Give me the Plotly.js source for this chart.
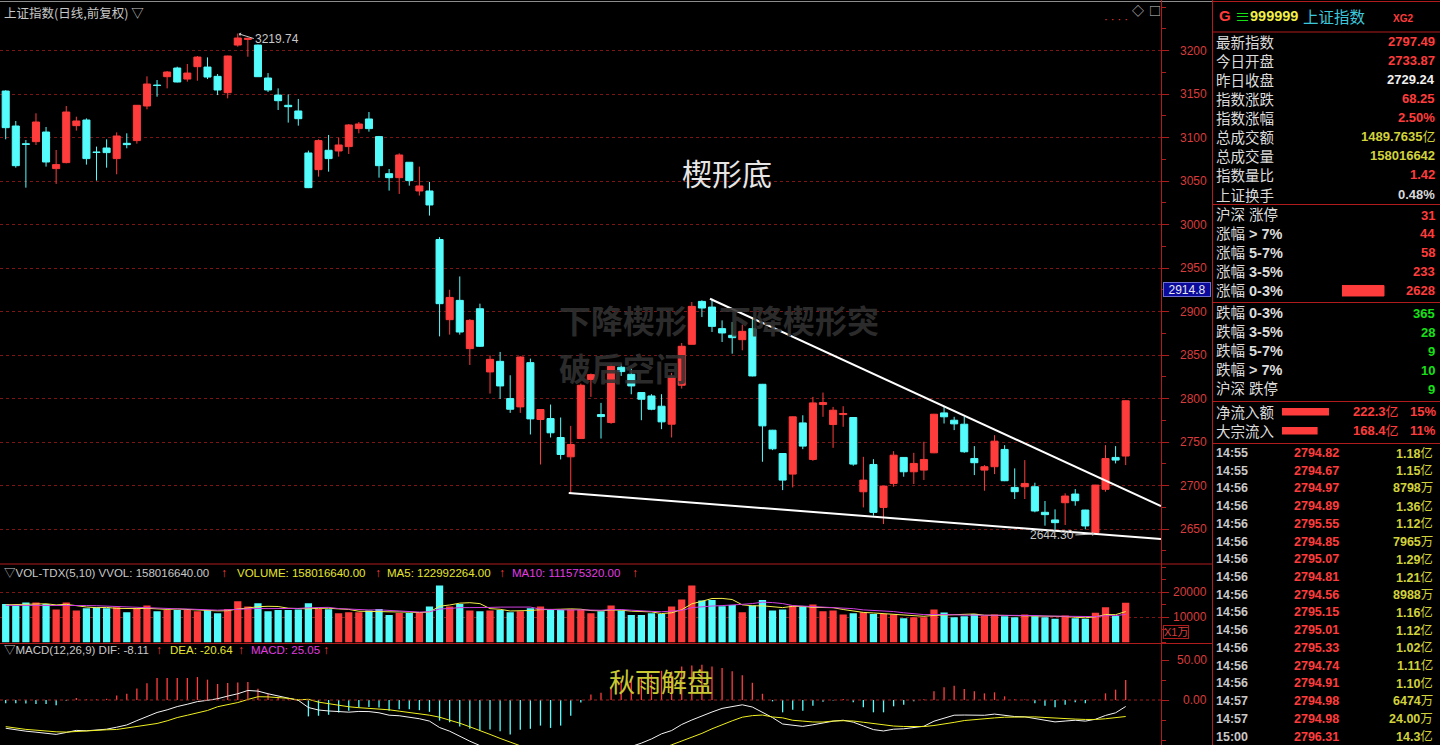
<!DOCTYPE html>
<html><head><meta charset="utf-8">
<script src="https://cdn.plot.ly/plotly-3.0.1.min.js"></script>
<style>html,body{margin:0;padding:0;background:#000;overflow:hidden}#chart{width:1440px;height:745px}</style>
</head><body><div id="chart"></div>
<script>
// ===== DATA =====
const opens = [3153.6,3113.4,3093.0,3095.4,3106.5,3064.4,3071.3,3113.8,3120.3,3083.5,3088.1,3075.9,3093.5,3096.6,3136.4,3160.5,3170.1,3180.1,3167.4,3181.6,3181.2,3170.5,3151.7,3206.5,3213.0,3206.5,3168.6,3149.0,3137.2,3130.7,3082.4,3063.2,3085.5,3084.7,3089.7,3110.4,3121.5,3101.2,3058.6,3054.0,3071.7,3038.7,3038.7,2982.9,2890.7,2912.9,2857.4,2903.3,2830.6,2842.8,2800.0,2790.4,2841.3,2775.9,2777.0,2755.2,2733.0,2754.0,2821.8,2781.6,2772.4,2836.0,2827.9,2806.9,2803.0,2791.2,2770.5,2815.3,2862.4,2911.7,2905.2,2880.4,2872.7,2867.7,2880.4,2816.4,2763.6,2736.8,2713.1,2772.0,2730.0,2793.1,2770.1,2781.6,2778.2,2692.8,2724.2,2674.8,2702.4,2732.3,2715.8,2717.7,2737.6,2783.5,2775.1,2770.5,2731.1,2717.7,2721.6,2741.5,2697.8,2698.6,2698.6,2669.2,2660.4,2680.2,2690.2,2671.8,2645.8,2695.6,2732.3,2733.87];
const highs = [3154.5,3119.2,3097.3,3128.0,3112.3,3085.8,3136.4,3124.1,3122.2,3089.7,3098.1,3106.1,3105.0,3137.5,3170.5,3166.3,3176.6,3181.6,3184.7,3193.9,3192.3,3173.2,3194.2,3219.74,3215.0,3207.0,3174.3,3156.7,3149.8,3144.5,3085.1,3098.1,3103.1,3100.0,3115.7,3118.0,3129.5,3102.0,3064.0,3082.0,3072.0,3066.7,3049.1,2985.6,2925.1,2940.4,2891.4,2909.1,2849.7,2853.6,2826.8,2848.6,2845.9,2787.8,2793.1,2778.2,2768.6,2817.2,2828.7,2795.0,2840.2,2840.0,2834.4,2807.3,2805.0,2805.0,2829.5,2863.9,2911.0,2913.0,2914.8,2889.9,2888.0,2884.9,2893.7,2816.8,2764.0,2737.2,2779.4,2780.8,2801.9,2806.9,2790.4,2791.2,2778.6,2733.0,2730.3,2699.5,2739.5,2732.6,2737.6,2750.3,2782.3,2790.4,2779.0,2779.0,2745.3,2723.5,2757.9,2746.4,2719.7,2729.2,2703.2,2682.2,2672.6,2691.0,2695.9,2672.1,2700.8,2746.4,2745.3,2798.0];
const lows = [3098.1,3065.5,3042.5,3091.6,3066.7,3046.8,3070.5,3108.1,3069.0,3050.6,3065.5,3057.9,3087.8,3093.1,3132.6,3147.1,3156.7,3163.6,3164.4,3165.5,3167.4,3149.0,3145.2,3204.6,3193.1,3170.0,3152.5,3131.8,3117.3,3113.8,3042.0,3055.2,3060.9,3078.2,3081.2,3105.0,3106.9,3054.0,3039.1,3035.3,3044.8,3033.4,3010.4,2871.5,2873.5,2873.5,2838.6,2859.3,2805.7,2799.6,2783.5,2783.5,2758.7,2724.2,2755.2,2730.0,2691.0,2753.5,2801.9,2754.0,2771.0,2826.0,2804.9,2775.1,2786.6,2764.8,2755.2,2811.5,2862.0,2893.7,2876.5,2865.0,2851.6,2855.5,2825.5,2727.3,2740.7,2694.7,2697.8,2741.8,2728.4,2779.0,2743.3,2767.5,2722.7,2674.8,2665.3,2655.7,2698.6,2710.1,2701.7,2706.3,2737.2,2771.3,2763.7,2737.6,2712.0,2694.0,2713.1,2705.0,2684.5,2684.5,2669.2,2653.8,2648.9,2654.6,2676.8,2649.6,2644.3,2692.9,2725.4,2723.5];
const closes = [3111.5,3067.8,3092.3,3118.0,3072.0,3069.0,3129.5,3119.2,3075.9,3083.0,3082.8,3101.9,3092.0,3137.2,3161.7,3160.0,3175.5,3164.0,3174.3,3192.7,3169.7,3154.8,3193.9,3214.6,3214.2,3170.1,3154.8,3142.5,3135.6,3121.8,3042.5,3096.6,3075.9,3091.6,3114.6,3115.7,3110.4,3067.8,3054.0,3080.1,3050.6,3044.5,3022.6,2909.1,2916.3,2876.5,2889.9,2860.1,2845.1,2814.5,2787.7,2847.8,2776.6,2787.4,2760.6,2735.7,2747.2,2815.3,2827.5,2779.3,2837.1,2831.0,2814.5,2799.2,2787.7,2773.2,2824.9,2860.1,2906.0,2904.1,2883.0,2875.4,2870.0,2877.3,2826.0,2768.6,2742.2,2706.2,2779.0,2745.3,2795.0,2795.4,2786.6,2782.8,2724.6,2706.2,2669.1,2699.3,2734.9,2715.8,2725.4,2730.0,2782.0,2779.0,2770.9,2738.8,2726.2,2721.6,2751.0,2705.5,2692.9,2702.4,2670.7,2666.5,2657.3,2687.9,2682.5,2653.5,2700.5,2731.1,2729.24,2797.49];

// volume, unit 1万 (x1万)
const volume = [15330,14670,15870,15870,15330,13070,15870,12670,13600,14000,13600,14000,12000,13730,14670,12400,12930,12930,12930,12400,12930,11600,13330,16400,14270,15600,12400,12930,12930,13070,15600,13330,13200,11600,12000,12000,12670,13330,10930,11730,11730,11730,14270,22670,14270,15330,12670,12400,12670,12930,12000,12400,13600,14270,12930,12930,13070,12930,11600,12400,14670,12670,10930,10930,11600,11330,14270,17070,22670,16670,16930,14400,14930,12000,14670,16930,12670,13070,14670,14400,15070,12400,12670,11070,11600,12000,11330,11330,11070,9600,10000,10000,13070,11870,10000,10400,11330,10530,11070,10400,10000,11070,10400,10000,9400,10670,9600,9400,11800,14000,10500,15802];
const volMA5 = [15000,15000,15200,15300,15410,14960,15200,14560,14110,13840,13950,13570,13440,13470,13600,13360,13150,13330,13170,12720,12820,12560,12640,13330,13710,14240,14400,14320,13630,13390,13390,13570,13630,13360,13150,12430,12290,12320,12190,12130,12080,11890,12080,14430,14930,15650,15840,15470,13470,13200,12530,12480,12720,13040,13040,13230,13360,13230,12690,12590,12930,12850,12450,12320,12160,11490,11810,13040,15390,16400,17520,17550,17120,14990,14590,14590,14240,13870,14400,14350,13980,13920,13840,13120,12560,11950,11730,11470,11470,11070,10670,10400,10750,10910,10990,11070,11330,10830,10670,10750,10670,10610,10590,10370,10170,10310,10010,9810,10170,11090,11060,12300];
const volMA10 = [14800,14800,14800,14800,14800,15000,15000,14900,14700,14630,14460,14390,14000,13790,13720,13650,13360,13390,13320,13160,13090,12850,12990,13250,13210,13530,13480,13480,13480,13550,13810,13990,13970,13490,13270,12910,12930,12970,12770,12640,12250,12090,12200,13310,13530,13870,13870,13770,13950,14070,14090,14160,14090,13250,13120,12880,12920,12970,12870,12810,13080,13110,12840,12510,12370,12210,12330,12750,13850,14280,14510,14680,15080,15190,15490,16050,15890,15490,14690,14470,14280,14080,13860,13760,13460,12960,12830,12650,12290,11810,11310,11070,11110,11190,11030,10870,10870,10790,10790,10870,10870,10970,10710,10520,10460,10490,10310,10200,10270,10630,10680,11160];

const macdHist = [-4,-4,-4.5,-5,-5,-6.5,-1,2.5,1,1,1.5,5.7,7.8,14.4,21,27.5,27.5,27.5,27.5,28.7,25.4,20,21.3,22,22.5,14,7.8,2.9,1.6,-1.2,-20.5,-19.7,-18.5,-15.6,-13.5,-9.4,-8.6,-9.4,-13.5,-11.5,-11.5,-12.7,-14.8,-25.8,-27.9,-33.2,-36,-38,-37,-39,-43,-37.3,-36,-32,-34.9,-32,-19.7,-3,7,9,15.2,24.2,26.2,28.3,31.6,36.5,35.7,41.8,43,44,42,40,36,31,21.5,7.8,-1.7,-15.4,-12.1,-13.3,-7.1,-2.1,-0.5,1.2,-2.9,-9.2,-15.4,-15.4,-7.9,-5.8,-1.7,0.8,10.8,15.8,17.9,13.8,10.8,8.3,9.6,4.6,1.0,0.5,-4.2,-7.1,-9.2,-5.8,-2.9,-4.2,0.5,8.3,12.9,25.05];
const difLine = [-35.3,-37.3,-39,-40.2,-41.4,-43,-40.6,-38,-38.5,-37.3,-36.5,-34,-31.2,-25.8,-20.9,-15.6,-12.3,-8.2,-5.3,-2,-0.4,1.6,4.9,7.8,11.9,11.1,7.8,4.9,2.9,-0.4,-9.4,-12.5,-13.7,-14.8,-15.2,-14.3,-14.5,-16,-19,-19.7,-21.3,-23.4,-26.4,-34.4,-39,-45.6,-51.5,-57,-61.5,-67.5,-74.5,-76.7,-80.5,-83,-88.5,-91,-87.9,-81.5,-76,-74,-69.4,-62.4,-58.4,-53.9,-48.7,-42.3,-38.2,-30.6,-25,-19.7,-15,-10.5,-8,-6,-8.8,-14.9,-22,-30,-31.4,-33,-31,-28.6,-26.5,-25.3,-27.7,-32.4,-37,-38.7,-36.5,-36,-34.4,-32.8,-26.5,-22.3,-19,-18.8,-18.9,-19.1,-17.6,-19.2,-20.7,-21,-23.2,-25.4,-27.4,-26.3,-25.3,-26.4,-24.1,-19.3,-16,-8.11];
const deaLine = [-33.3,-35.3,-36.75,-37.7,-38.9,-39.75,-40.1,-39.25,-39,-37.8,-37.25,-36.85,-35.1,-33,-31.4,-29.35,-26.05,-21.95,-19.05,-16.35,-13.1,-8.4,-5.75,-3.2,0.65,4.1,3.9,3.45,2.1,0.2,0.85,-2.65,-4.45,-7,-8.45,-9.6,-10.2,-11.3,-12.25,-13.95,-15.55,-17.05,-19,-21.5,-25.05,-29,-33.5,-38,-43,-48,-53,-58.05,-62.5,-67,-71.05,-75,-78.05,-80,-79.5,-78.5,-77,-74.5,-71.5,-68.05,-64.5,-60.55,-56.05,-51.5,-46.5,-41.7,-36,-30.5,-26,-21.5,-19.55,-18.8,-21.2,-22.3,-25.35,-26.35,-27.45,-27.55,-26.25,-25.9,-26.25,-27.8,-29.3,-31,-32.55,-33.1,-33.55,-33.2,-31.9,-30.2,-27.95,-25.7,-24.3,-23.25,-22.4,-21.5,-21.2,-21.25,-21.1,-21.85,-22.8,-23.4,-23.85,-24.3,-24.35,-23.45,-22.45,-20.64];

// wedge trend lines (bar index, price)
const wedgeUpperX = [69.8, 114.5];
const wedgeUpperY = [2914.8, 2676.4];
const wedgeLowerX = [55.8, 114.5];
const wedgeLowerY = [2691.5, 2638.4];

// axis tick labels
const priceTicks = [2650,2700,2750,2800,2850,2900,2950,3000,3050,3100,3150,3200];
const volTicks = [10000, 20000];
const macdTicks = [0, 50];

// header texts
const volHeaderTexts = ['▽VOL-TDX(5,10) VVOL: 158016640.00', 'VOLUME: 158016640.00', 'MA5: 122992264.00', 'MA10: 111575320.00'];
const macdHeaderTexts = ['▽MACD(12,26,9) DIF: -8.11', 'DEA: -20.64', 'MACD: 25.05'];

// right panel
const infoLabels = ['最新指数','今日开盘','昨日收盘','指数涨跌','指数涨幅','总成交额','总成交量','指数量比','上证换手'];
const infoValues = ['2797.49','2733.87','2729.24','68.25','2.50%','1489.7635亿','158016642','1.42','0.48%'];
const distLabels = ['沪深 涨停','涨幅 > 7%','涨幅 5-7%','涨幅 3-5%','涨幅 0-3%','跌幅 0-3%','跌幅 3-5%','跌幅 5-7%','跌幅 > 7%','沪深 跌停'];
const distCounts = [31,44,58,233,2628,365,28,9,10,9];
const flowLabels = ['净流入额','大宗流入'];
const flowAmounts = [222.3, 168.4];
const flowShares = [15, 11];
const tickTimes = ['14:55','14:55','14:56','14:56','14:56','14:56','14:56','14:56','14:56','14:56','14:56','14:56','14:56','14:56','14:57','14:57','15:00'];
const tickPrices = [2794.82,2794.67,2794.97,2794.89,2795.55,2794.85,2795.07,2794.81,2794.56,2795.15,2795.01,2795.33,2794.74,2794.91,2794.98,2794.98,2796.31];
const tickAmounts = ['1.18亿','1.15亿','8798万','1.36亿','1.12亿','7965万','1.29亿','1.21亿','8988万','1.16亿','1.12亿','1.02亿','1.11亿','1.10亿','6474万','24.00万','14.3亿'];

// ===== STYLE / LAYOUT =====
const W = 1440, H = 745;
const px = v => v / W;
const py = v => 1 - v / H;
const RED = '#ff3c3c', CYAN = '#54fcfc', AXRED = '#b01c1c', GRID = '#7c1616', LBL = '#d83c3c';
const GRAYT = '#c8c8c8', YEL = '#e6e62e', MAG = '#e23ce2', OLIVE = '#d2d23a', GREEN = '#18e018';
const FONT_NUM = 'Liberation Sans, Arial, sans-serif';
const FONT_CJK = 'Noto Sans CJK SC, sans-serif';
const FONT_MIX = 'Liberation Sans, Noto Sans CJK SC, sans-serif';
const infoValueColors = [RED, RED, '#f0f0f0', RED, RED, OLIVE, OLIVE, RED, '#d8d8d8'];

const idx = opens.map((_, i) => i);
const volColors = idx.map(i => closes[i] >= opens[i] ? RED : CYAN);
const histColors = macdHist.map(v => v >= 0 ? RED : CYAN);
const boldNum = s => s.replace(/([0-9.%:]+)/, '<b>$1</b>');
const boldAscii = s => s.replace(/([>0-9][0-9%\- >]*)$/, '<b>$1</b>');

const MAIN_BOTTOM = 563, VOL_TOP = 564.5, VOL_BOTTOM = 644, MACD_TOP = 645;

const data = [
  {type:'candlestick', x: idx, open: opens, high: highs, low: lows, close: closes, xaxis:'x', yaxis:'y',
   increasing:{line:{color:RED, width:1}, fillcolor:RED}, decreasing:{line:{color:CYAN, width:1}, fillcolor:CYAN},
   whiskerwidth:0, hoverinfo:'skip', showlegend:false},
  {type:'scatter', mode:'lines', x: wedgeUpperX, y: wedgeUpperY, xaxis:'x', yaxis:'y', line:{color:'#ffffff', width:2}, hoverinfo:'skip'},
  {type:'scatter', mode:'lines', x: wedgeLowerX, y: wedgeLowerY, xaxis:'x', yaxis:'y', line:{color:'#ffffff', width:2}, hoverinfo:'skip'},
  {type:'bar', x: idx, y: volume, xaxis:'x', yaxis:'y2', width:0.72, marker:{color: volColors, line:{width:0}}, hoverinfo:'skip'},
  {type:'scatter', mode:'lines', x: idx, y: volMA5, xaxis:'x', yaxis:'y2', line:{color:'#f4f04a', width:1}, hoverinfo:'skip'},
  {type:'scatter', mode:'lines', x: idx, y: volMA10, xaxis:'x', yaxis:'y2', line:{color:'#d040e0', width:1}, hoverinfo:'skip'},
  {type:'bar', x: idx, y: macdHist, xaxis:'x', yaxis:'y3', width:0.13, marker:{color: histColors, line:{width:0}}, hoverinfo:'skip'},
  {type:'scatter', mode:'lines', x: idx, y: difLine, xaxis:'x', yaxis:'y3', line:{color:'#f4f4f4', width:1}, hoverinfo:'skip'},
  {type:'scatter', mode:'lines', x: idx, y: deaLine, xaxis:'x', yaxis:'y3', line:{color:'#f0f020', width:1}, hoverinfo:'skip'}
];

// right-panel distribution bars
const distRowY = distCounts.map((_, k) => k < 5 ? 215 + 18.93 * k : 313.3 + 19 * (k - 5));
const distColors = distCounts.map((_, k) => k < 5 ? RED : GREEN);
data.push({type:'bar', orientation:'h', x: distCounts, y: distRowY, xaxis:'x2', yaxis:'y4', width:10.5,
  marker:{color: distColors, line:{color: distColors, width:1}}, hoverinfo:'skip'});
const flowRowY = flowAmounts.map((_, k) => 411.7 + 19 * k);
data.push({type:'bar', orientation:'h', x: flowAmounts, y: flowRowY, xaxis:'x3', yaxis:'y5', width:7.5,
  marker:{color: RED, line:{width:0}}, hoverinfo:'skip'});

function note(x, y, text, color, size, xanchor, family, extra) {
  return Object.assign({xref:'paper', yref:'paper', x: px(x), y: py(y), text: text, showarrow:false, borderpad:0,
    xanchor: xanchor || 'left', yanchor:'middle', font:{family: family || FONT_NUM, size: size, color: color}}, extra || {});
}
const ann = [];
ann.push(note(3, 12, '上证指数(日线,前复权) ▽', GRAYT, 12.5, 'left', FONT_CJK));
ann.push(note(1116, 19, '· · · ·', RED, 11, 'center'));
ann.push(note(1138, 11, '◇', GRAYT, 12, 'center', FONT_CJK));
ann.push(note(1155, 11, '□', GRAYT, 12, 'center', FONT_CJK));

// extreme markers
const hiIdx = highs.reduce((b, v, i) => v > highs[b] ? i : b, 0);
const loIdx = lows.reduce((b, v, i) => v < lows[b] ? i : b, 0);
ann.push({xref:'x', yref:'y', x: hiIdx, y: highs[hiIdx], text: highs[hiIdx].toFixed(2), showarrow:true, ax:16, ay:5,
  xanchor:'left', yanchor:'middle', arrowcolor: GRAYT, arrowwidth:1, arrowhead:1, arrowsize:0.7, standoff:1, borderpad:0,
  font:{family: FONT_NUM, size:12, color: GRAYT}});
ann.push({xref:'x', yref:'y', x: loIdx, y: lows[loIdx], text: lows[loIdx].toFixed(2), showarrow:true, ax:-20, ay:1,
  xanchor:'right', yanchor:'middle', arrowcolor: GRAYT, arrowwidth:1, arrowhead:1, arrowsize:0.7, standoff:1, borderpad:0,
  font:{family: FONT_NUM, size:12, color: GRAYT}});

// chart texts
ann.push(note(727, 172, '楔形底', '#e6e6e6', 30, 'center', FONT_CJK));
const wm = 'rgba(50,50,50,0.88)';
ann.push(note(558, 319, '<b>下降楔形</b>', wm, 32, 'left', FONT_CJK));
ann.push(note(718, 319, '<b>下降楔形突</b>', wm, 32, 'left', FONT_CJK));
ann.push(note(558, 367, '<b>破后空间</b>', wm, 32, 'left', FONT_CJK));
ann.push(note(661, 680, '秋雨解盘', '#c8c832', 26, 'center', FONT_CJK));

// indicator headers
const volHdrX = [3, 236, 386, 511], volArrX = [220, 374, 498, 631];
const volHdrC = [GRAYT, YEL, YEL, MAG];
volHeaderTexts.forEach((t, k) => {
  ann.push(note(volHdrX[k], 573, t, volHdrC[k], 11.5, 'left', FONT_MIX));
  ann.push(note(volArrX[k], 573, '↑', RED, 12, 'left'));
});
const macdHdrX = [3, 169, 250], macdArrX = [155, 237, 322];
const macdHdrC = [GRAYT, YEL, MAG];
macdHeaderTexts.forEach((t, k) => {
  ann.push(note(macdHdrX[k], 650, t, macdHdrC[k], 11.5, 'left', FONT_MIX));
  ann.push(note(macdArrX[k], 650, '↑', RED, 12, 'left'));
});

// right axis labels
const axLbl = (yref, v, text) => ({xref:'paper', yref: yref, x: px(1208), y: v, text: text, xanchor:'right', yanchor:'middle', showarrow:false, borderpad:0, font:{family: FONT_NUM, size:12, color: LBL}});
priceTicks.forEach(v => ann.push(axLbl('y', v, String(v))));
volTicks.forEach(v => ann.push(axLbl('y2', v, String(v))));
macdTicks.forEach(v => ann.push(axLbl('y3', v, v.toFixed(2))));
ann.push(note(1163, 632, 'X1万', LBL, 11, 'left', FONT_MIX, {bordercolor: AXRED, borderwidth:1}));
ann.push(note(1186.5, 289.5, '2914.8', '#e8e8e8', 12, 'center', FONT_NUM, {bgcolor:'#0a0a9c', bordercolor:'#7070d0', borderwidth:1, width:46, height:13}));

// right panel header
ann.push(note(1218, 16, '<b>G</b>', RED, 15, 'left'));
ann.push(note(1234, 16, '≡', GREEN, 15, 'left', FONT_CJK));
ann.push(note(1249, 16, '<b>999999</b>', '#f0f046', 14.5, 'left'));
ann.push(note(1302, 16, '上证指数', '#3cc8dc', 15.5, 'left', FONT_CJK));
ann.push(note(1392, 18, '<b>XG2</b>', RED, 10, 'left'));

const CJK_SIZE = 14.5;
infoLabels.forEach((t, k) => {
  const y = 41.7 + 19.04 * k;
  ann.push(note(1215, y, t, '#dcdcdc', CJK_SIZE, 'left', FONT_CJK));
  ann.push(note(1436, y, boldNum(infoValues[k]), infoValueColors[k], 13, 'right', FONT_MIX));
});
distLabels.forEach((t, k) => {
  const y = distRowY[k];
  ann.push(note(1215, y, boldAscii(t), '#dcdcdc', CJK_SIZE, 'left', FONT_MIX));
  ann.push(note(1436, y, '<b>' + distCounts[k] + '</b>', distColors[k], 13, 'right'));
});
flowLabels.forEach((t, k) => {
  const y = flowRowY[k];
  ann.push(note(1215, y, t, '#dcdcdc', CJK_SIZE, 'left', FONT_CJK));
  ann.push(note(1400, y, '<b>' + flowAmounts[k].toFixed(1) + '</b>亿', RED, 13, 'right', FONT_MIX));
  ann.push(note(1437, y, '<b>' + flowShares[k] + '%</b>', RED, 13, 'right'));
});
tickTimes.forEach((t, k) => {
  const y = 453 + 17.72 * k;
  ann.push(note(1215, y, '<b>' + t + '</b>', '#c8c8c8', 12.5, 'left'));
  ann.push(note(1340, y, '<b>' + tickPrices[k].toFixed(2) + '</b>', RED, 12.5, 'right'));
  ann.push(note(1434, y, boldNum(tickAmounts[k]), OLIVE, 12.5, 'right', FONT_MIX));
});

// frame lines
function hline(y, x0, x1, color) { return {type:'line', xref:'paper', yref:'paper', x0: px(x0), x1: px(x1), y0: py(y), y1: py(y), line:{color: color || AXRED, width:1}}; }
function vline(x, y0, y1, color) { return {type:'line', xref:'paper', yref:'paper', x0: px(x), x1: px(x), y0: py(y0), y1: py(y1), line:{color: color || AXRED, width:1}}; }
const shapes = [
  hline(1.5, 0, 1212, '#8c8c8c'), hline(1.5, 1212, 1440),
  vline(1161.5, 0, 745), vline(1212.5, 0, 745),
  hline(564, 0, 1212.5), hline(643.5, 0, 1212.5),
  hline(32, 1212, 1440), hline(204.5, 1212, 1440), hline(302.5, 1212, 1440), hline(401.5, 1212, 1440), hline(443.5, 1212, 1440),
  {type:'line', xref:'paper', yref:'y3', x0:0, x1: px(1161), y0:0, y1:0, line:{color:'#a02020', width:1, dash:'dot'}}
];

const yBase = {side:'right', anchor:'x', showline:true, linecolor: AXRED, linewidth:1, ticks:'outside', ticklen:7, tickcolor: AXRED,
  showticklabels:false, zeroline:false, fixedrange:true};
const layout = {
  width: W, height: H, paper_bgcolor:'#000', plot_bgcolor:'#000', margin:{l:0, r:0, t:0, b:0},
  showlegend:false, hovermode:false, boxgap:0.3, boxgroupgap:0, barmode:'overlay',
  font:{family: FONT_MIX, color: GRAYT},
  xaxis:{domain:[0, px(1161)], range:[-0.565, 114.5], visible:false, fixedrange:true, rangeslider:{visible:false}},
  yaxis: Object.assign({}, yBase, {domain:[py(MAIN_BOTTOM), 1], range:[2610.9, 3258.3], tickvals: priceTicks,
    showgrid:true, gridcolor: GRID, griddash:'dot', gridwidth:1,
    minor:{dtick:25, tick0:2650, ticks:'outside', ticklen:4, tickcolor: AXRED, showgrid:false}}),
  yaxis2: Object.assign({}, yBase, {domain:[py(VOL_BOTTOM), py(VOL_TOP)], range:[-680, 31120], tickvals: volTicks,
    showgrid:true, gridcolor: GRID, griddash:'dot', gridwidth:1,
    minor:{dtick:5000, tick0:0, ticks:'outside', ticklen:4, tickcolor: AXRED, showgrid:false}}),
  yaxis3: Object.assign({}, yBase, {domain:[0, py(MACD_TOP)], range:[-56.25, 68.75], tickvals: macdTicks, showgrid:false,
    minor:{dtick:25, tick0:0, ticks:'outside', ticklen:4, tickcolor: AXRED, showgrid:false}}),
  xaxis2:{domain:[px(1304), 1], range:[0, 4468], visible:false, anchor:'y4', fixedrange:true},
  yaxis4:{domain:[0, 1], range:[745, 0], visible:false, anchor:'x2', fixedrange:true},
  xaxis3:{domain:[px(1282), px(1342)], range:[0, 283.8], visible:false, anchor:'y5', fixedrange:true},
  yaxis5:{domain:[0, 1], range:[745, 0], visible:false, anchor:'x3', fixedrange:true},
  shapes: shapes,
  annotations: ann
};
Plotly.newPlot('chart', data, layout, {staticPlot:true, displayModeBar:false});
</script>
</body></html>
